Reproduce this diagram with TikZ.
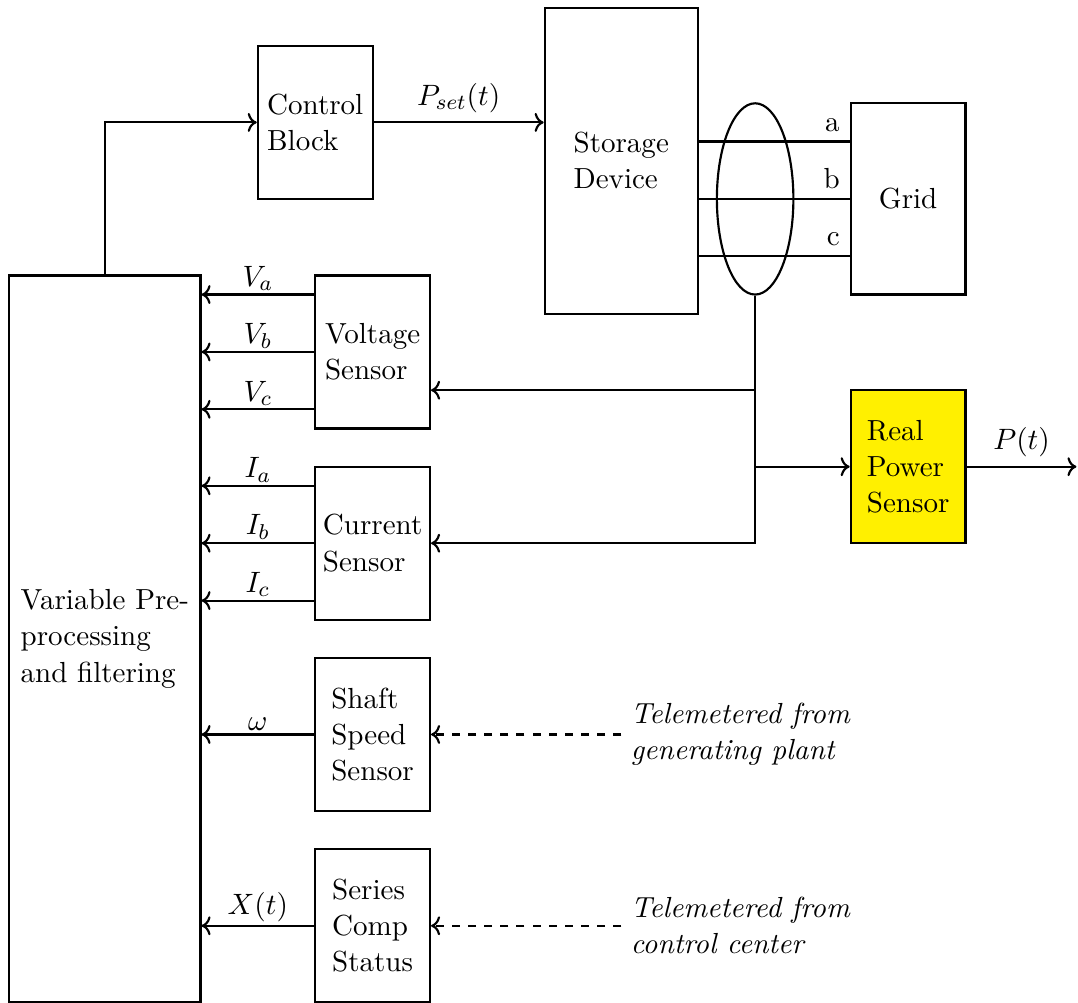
\documentclass[tikz,border=0pt]{standalone}
\usepackage{amsmath, amssymb}
\usepackage{xcolor}
\usepackage{tikz}
\usetikzlibrary{arrows.meta, positioning, shapes.geometric}
\definecolor{rpsyellow}{HTML}{FFF000}
\tikzset{
  blknode/.style={rectangle,draw=black,thick,minimum width=1.5cm,minimum height=2cm,align=left,inner sep=2pt},
  prepnode/.style={blknode,minimum width=2.5cm,minimum height=9.5cm},
  storenode/.style={blknode,minimum width=2cm,minimum height=4cm},
  gridnode/.style={blknode,minimum height=2.5cm},
  rpsnode/.style={blknode,fill=rpsyellow},
  busnode/.style={ellipse,draw=black,thick,minimum width=1cm,minimum height=2.5cm,inner sep=0pt},
  notenode/.style={align=left,font=\fontsize{10.8}{13.5}\selectfont\itshape},
  senslbl/.style={above,inner sep=1pt},
  sigedge/.style={->,thick},
  wireedge/.style={thick},
  teleedge/.style={->,thick,dashed},
}

\begin{document}
\begin{tikzpicture}[font=\fontsize{10.8}{13.5}\selectfont]
  \useasboundingbox (-0.12,-9.5) rectangle (13.97,3.6);
  \node[prepnode] (nPrep) at (1.25,-4.75) {Variable Pre-\\processing\\and filtering};
  \node[blknode] (nCtrl) at (4.00,2.00) {Control\\Block};
  \node[storenode] (nStore) at (8.00,1.50) {Storage\\Device};
  \node[gridnode] (nGrid) at (11.75,1.00) {Grid};
  \node[busnode] (nBus) at (9.75,1.00) {};
  \node[blknode] (nVolt) at (4.75,-1.00) {Voltage\\Sensor};
  \node[blknode] (nCurr) at (4.75,-3.50) {Current\\Sensor};
  \node[blknode] (nShaft) at (4.75,-6.00) {Shaft\\Speed\\Sensor};
  \node[blknode] (nSeries) at (4.75,-8.50) {Series\\Comp\\Status};
  \node[rpsnode] (nRPS) at (11.75,-2.50) {Real\\Power\\Sensor};
  \node[notenode,anchor=west] (nPlant) at (8.00,-6.00) {Telemetered from\\generating plant};
  \node[notenode,anchor=west] (nCenter) at (8.00,-8.50) {Telemetered from\\control center};
  \coordinate (pOut) at (13.95,-2.50);
  \coordinate (kVolt) at ([yshift=-0.5cm]nVolt.east);
  % control path
  \draw[sigedge] (nPrep.north) |- (nCtrl.west);
  \draw[sigedge] (nCtrl.east) -- node[above] {$P_{set}(t)$} (nCtrl.east -| nStore.west);
  % three phase lines
  \foreach \ph/\dy in {a/0.75,b/0,c/-0.75}{
    \coordinate (g\ph) at ([yshift=\dy cm]nGrid.west);
    \draw[wireedge] (nStore.east |- g\ph) -- (g\ph) node[above left] {\ph};
  }
  % measurement bus
  \draw[sigedge] (nBus.south) |- (nCurr.east);
  \draw[sigedge] (nBus.south |- kVolt) -- (kVolt);
  \draw[sigedge] (nBus.south |- nRPS.west) -- (nRPS.west);
  \draw[sigedge] (nRPS.east) -- node[above] {$P(t)$} (pOut);
  % sensor outputs
  \foreach \ph/\dy in {a/0.75,b/0,c/-0.75}{
    \coordinate (v\ph) at ([yshift=\dy cm]nVolt.west);
    \coordinate (i\ph) at ([yshift=\dy cm]nCurr.west);
    \draw[sigedge] (v\ph) -- node[senslbl] {$V_\ph$} (v\ph -| nPrep.east);
    \draw[sigedge] (i\ph) -- node[senslbl] {$I_\ph$} (i\ph -| nPrep.east);
  }
  \draw[sigedge] (nShaft.west) -- node[senslbl] {$\omega$} (nShaft.west -| nPrep.east);
  \draw[sigedge] (nSeries.west) -- node[senslbl] {$X(t)$} (nSeries.west -| nPrep.east);
  \draw[teleedge] (nPlant.west) -- (nShaft.east);
  \draw[teleedge] (nCenter.west) -- (nSeries.east);
\end{tikzpicture}
\end{document}
